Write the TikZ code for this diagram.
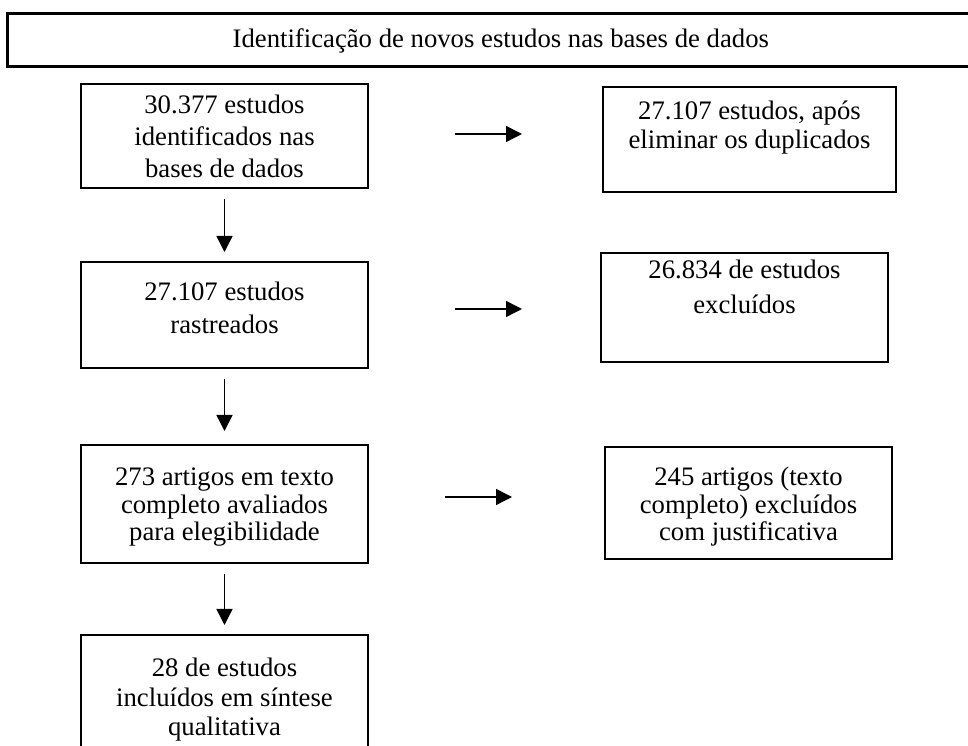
\documentclass[tikz,border=0pt]{standalone}
\usepackage{fontspec}
\setmainfont{Liberation Serif}
\usetikzlibrary{arrows.meta}
\newcommand{\boxfont}[1]{\fontsize{15.2}{#1}\selectfont}

\begin{document}
\begin{tikzpicture}[>={Triangle[length=0.32cm,width=0.32cm]},
		box/.style={draw, line width=1.1pt, align=center, inner sep=0pt, anchor=north},
		flow/.style={->, line width=0.8pt}]
			\useasboundingbox (0,0) rectangle (19.36,14.92);
			\clip (0,0) rectangle (19.36,14.92);
			\node[box, anchor=north west, line width=1.5pt, minimum width=19.74cm, text height=0.68cm, text depth=0.38cm, font=\boxfont{18pt}] (titulo) at (0.12,14.68) {Identificação de novos estudos nas bases de dados};
			\node[box, minimum width=5.74cm, text height=1.88cm, text depth=0.20cm, font=\boxfont{18.2pt}] (ident) at (4.49,13.26) {30.377 estudos\\identificados nas\\bases de dados};
			\node[box, minimum width=5.74cm, text height=1.44cm, text depth=0.68cm, font=\boxfont{19.3pt}] (rastr) at (4.49,9.70) {27.107 estudos\\rastreados};
			\node[box, minimum width=5.74cm, text height=1.92cm, text depth=0.44cm, font=\boxfont{15.9pt}] (aval) at (4.49,6.04) {273 artigos em texto\\completo avaliados\\para elegibilidade};
			\node[box, minimum width=5.74cm, text height=2.02cm, text depth=0.34cm, font=\boxfont{17pt}] (incl) at (4.49,2.24) {28 de estudos\\incluídos em síntese\\qualitativa};
			\node[box, minimum width=5.86cm, text height=1.24cm, text depth=0.86cm, font=\boxfont{16.5pt}] (dupl) at (14.99,13.20) {27.107 estudos, após\\eliminar os duplicados};
			\node[box, minimum width=5.74cm, text height=1.22cm, text depth=0.96cm, font=\boxfont{20.4pt}] (excl) at (14.89,9.88) {26.834 de estudos\\excluídos};
			\node[box, minimum width=5.74cm, text height=1.88cm, text depth=0.36cm, font=\boxfont{15.9pt}] (just) at (14.97,6.00) {245 artigos (texto\\completo) excluídos\\com justificativa};
			\coordinate (h1a) at (9.10,12.24);
			\coordinate (h1b) at (10.44,12.24);
			\coordinate (h2a) at (9.10,8.74);
			\coordinate (h2b) at (10.44,8.74);
			\coordinate (h3a) at (8.90,4.98);
			\coordinate (h3b) at (10.24,4.98);
			\draw[flow, shorten <=0.2cm, shorten >=0.18cm] (ident) -- (rastr);
			\draw[flow, shorten <=0.2cm, shorten >=0.26cm] (rastr) -- (aval);
			\draw[flow, shorten <=0.2cm, shorten >=0.18cm] (aval) -- (incl);
			\draw[flow] (h1a) -- (h1b);
			\draw[flow] (h2a) -- (h2b);
			\draw[flow] (h3a) -- (h3b);
		\end{tikzpicture}
\end{document}
